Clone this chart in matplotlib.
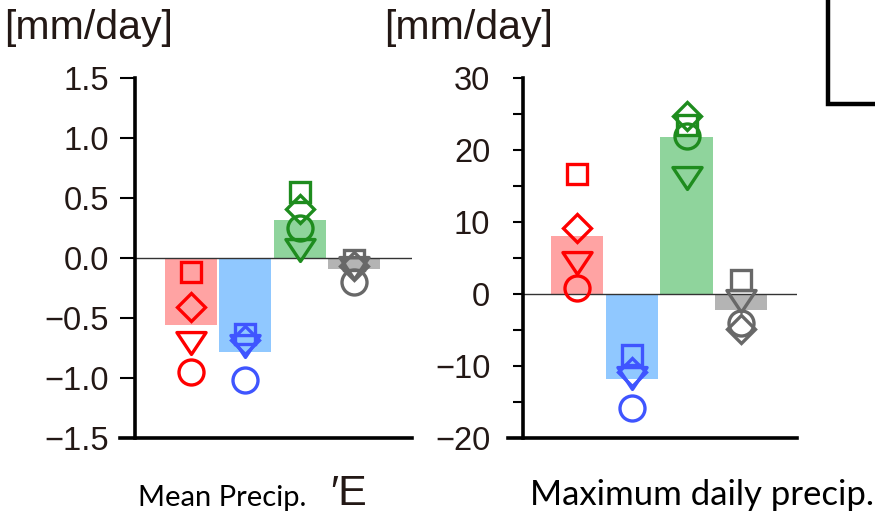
import matplotlib
matplotlib.use("Agg")
import matplotlib.pyplot as plt
from matplotlib.lines import Line2D
from matplotlib.path import Path
from matplotlib.ticker import MultipleLocator

# four experiments: red, blue, green, gray
groups = ["red", "blue", "green", "gray"]
bar_colors = ["#ffa3a3", "#90c8ff", "#8fd49c", "#b4b4b4"]
mark_colors = ["#ff0000", "#3f55ff", "#1e8c1e", "#686868"]

# mean precipitation change [mm/day]
mean_bar = [-0.56, -0.78, 0.32, -0.09]
mean_sq = [-0.12, -0.63, 0.55, -0.02]
mean_dia = [-0.41, -0.68, 0.41, -0.07]
mean_tri = [-0.71, -0.73, 0.07, -0.08]
mean_circ = [-0.95, -1.02, 0.25, -0.20]
mean_ticks = [-1.5, -1.0, -0.5, 0.0, 0.5, 1.0, 1.5]

# maximum daily precipitation change [mm/day]
max_bar = [8.0, -11.8, 21.8, -2.2]
max_sq = [16.7, -8.5, 23.5, 2.0]
max_dia = [9.1, -10.8, 24.7, -4.8]
max_tri = [4.3, -11.6, 16.1, -1.0]
max_circ = [0.9, -15.8, 21.9, -4.0]
max_ticks = [-20, -10, 0, 10, 20, 30]

TXT = "#231815"
W, H = 875, 515
# wide downward triangle, closed outline
tri_down = Path([(-1, 0.75), (1, 0.75), (0, -0.75), (-1, 0.75)], closed=True)

fig = plt.figure(figsize=(W / 100, H / 100), dpi=100)


def panel(rect, bars, sq, dia, tri, circ, ticks, fmt, xlim, ticklen, pad, minor=None):
    ax = fig.add_axes(rect)
    x = list(range(len(bars)))
    ax.bar(x, bars, width=0.96, color=bar_colors, zorder=1)
    ax.axhline(0, color="#333333", lw=1.0, zorder=2)
    for vals, m, ms in [(sq, "s", 14), (dia, "D", 14), (tri, tri_down, 21), (circ, "o", 18)]:
        for xi, v, c in zip(x, vals, mark_colors):
            ax.plot(xi, v, marker=m, ms=ms, mfc="none", mec=c, mew=2.4,
                    solid_joinstyle="miter", zorder=3)
    ax.set_xlim(*xlim)
    ax.set_ylim(ticks[0], ticks[-1])
    ax.set_yticks(ticks)
    ax.set_yticklabels([fmt(t).replace("-", "\u2212") for t in ticks])
    if minor:
        ax.yaxis.set_minor_locator(MultipleLocator(minor))
        ax.tick_params(axis="y", which="minor", length=ticklen, width=1.5)
    ax.tick_params(axis="y", which="major", length=ticklen, width=1.5, pad=pad,
                   labelsize=23.5, labelcolor=TXT)
    ax.set_xticks([])
    for s in ["top", "right"]:
        ax.spines[s].set_visible(False)
    for s in ["left", "bottom"]:
        ax.spines[s].set_linewidth(2.6)
    ax.spines["bottom"].set_bounds(xlim[0] - 0.28, xlim[1])
    for lab in ax.get_yticklabels():
        lab.set_fontfamily("Liberation Sans")
    return ax


bot = (H - 438) / H
hgt = (438 - 78) / H
panel([135 / W, bot, 277 / W, hgt], mean_bar, mean_sq, mean_dia, mean_tri, mean_circ,
      mean_ticks, lambda t: f"{t:.1f}", (-1.03, 4.07), 10.5, 8)
panel([523 / W, bot, 274 / W, hgt], max_bar, max_sq, max_dia, max_tri, max_circ,
      max_ticks, lambda t: f"{t:d}", (-0.99, 4.02), 7.5, 16, minor=5)

# units above each axis
fig.text(4 / W, 1 - 28 / H, "[mm/day]", fontsize=29.5, color=TXT,
         family="Liberation Sans", ha="left", va="center")
fig.text(384 / W, 1 - 28 / H, "[mm/day]", fontsize=29.5, color=TXT,
         family="Liberation Sans", ha="left", va="center")

# captions under panels
fig.text(138 / W, 1 - 498 / H, "Mean Precip.", fontsize=21, color="black",
         family="Lato", ha="left", va="center")
fig.text(330 / W, 1 - 505 / H, "\u2032E", fontsize=31, color=TXT,
         family="Liberation Sans", ha="left", va="baseline")
fig.text(530 / W, 1 - 495 / H, "Maximum daily precip.", fontsize=25, color="black",
         family="Lato", ha="left", va="center")

# corner frame at top right
fig.add_artist(Line2D([828 / W, 828 / W, 1.0], [1.0, 1 - 104 / H, 1 - 104 / H],
                      transform=fig.transFigure, color="black", lw=3.2,
                      solid_joinstyle="miter"))

fig.savefig("out.png", dpi=100)
